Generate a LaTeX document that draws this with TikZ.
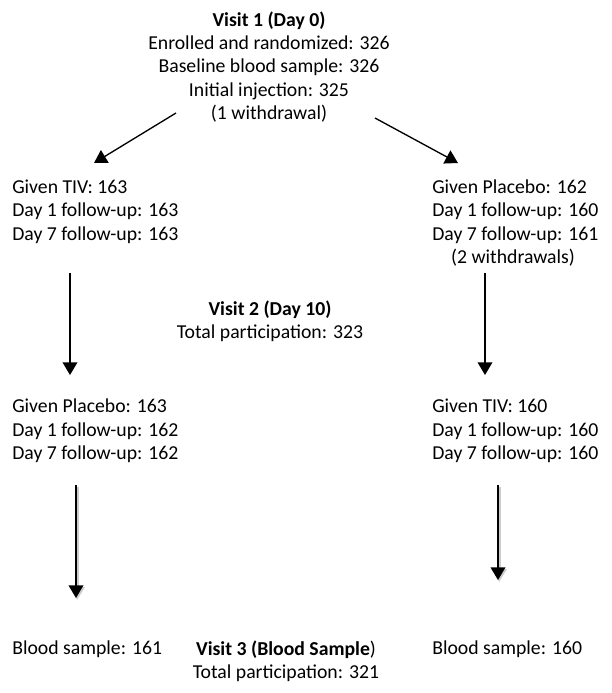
\documentclass[tikz,border=0pt]{standalone}
\usepackage{fontspec}
\setmainfont{Carlito}
\usetikzlibrary{calc,arrows.meta}

\tikzset{
    txt/.style={inner sep=0pt, align=left, anchor=west},
    mid/.style={inner sep=0pt, align=center},
    arr/.style={-{Triangle[length=9.5pt,width=11pt]}, line width=1pt},
    % soft grey copy under the last two arrows
    shadowed/.style={preaction={draw=black!20, line width=2pt,
        transform canvas={shift={(0.9pt,-1.4pt)}}}}
}

\begin{document}
\begin{tikzpicture}[x=0.75pt, y=-0.75pt,
        font=\fontsize{14.8pt}{17.6pt}\selectfont]
    \useasboundingbox (0,0) rectangle (611,693);

    % visit 1
    \node[mid] (visit1) at (269,67) {\textbf{Visit 1 (Day 0)}\\
        Enrolled and randomized: 326\\Baseline blood sample: 326\\
        Initial injection: 325\\(1 withdrawal)};

    \node[txt] (tiv1) at (12,211.5) {Given TIV: 163\\Day 1 follow-up: 163\\Day 7 follow-up: 163};
    \node[txt] (pbo1) at (432,211.5) {Given Placebo: 162\\Day 1 follow-up: 160\\Day 7 follow-up: 161};
    \node[mid] (wdraw) at (513,258) {(2 withdrawals)};

    % visit 2
    \node[mid] (visit2) at (270,321.5) {\textbf{Visit 2 (Day 10)}\\Total participation: 323};

    \node[txt] (pbo2) at (12,431) {Given Placebo: 163\\Day 1 follow-up: 162\\Day 7 follow-up: 162};
    \node[txt] (tiv2) at (432,431) {Given TIV: 160\\Day 1 follow-up: 160\\Day 7 follow-up: 160};

    % visit 3
    \node[txt] (blood1) at (12,649) {Blood sample: 161};
    \node[mid] (visit3) at (286,661) {\textbf{Visit 3 (Blood Sample})\\Total participation: 321};
    \node[txt] (blood2) at (432,649) {Blood sample: 160};

    \draw[arr] ($(visit1.center)+(-93,46)$) -- ($(tiv1.west)+(82,-48.5)$);
    \draw[arr] ($(visit1.center)+(106,51)$) -- ($(pbo1.west)+(26,-48.5)$);

    \draw[arr] ($(tiv1.west)+(58,61.5)$) -- ($(pbo2.west)+(58,-56)$);
    \draw[arr] ($(pbo1.west)+(53,61.5)$) -- ($(tiv2.west)+(53,-56)$);

    \draw[arr, shadowed] ($(pbo2.west)+(64,54)$) -- ($(blood1.west)+(64,-51)$);
    \draw[arr, shadowed] ($(tiv2.west)+(66,54)$) -- ($(blood2.west)+(66,-69)$);
\end{tikzpicture}
\end{document}
